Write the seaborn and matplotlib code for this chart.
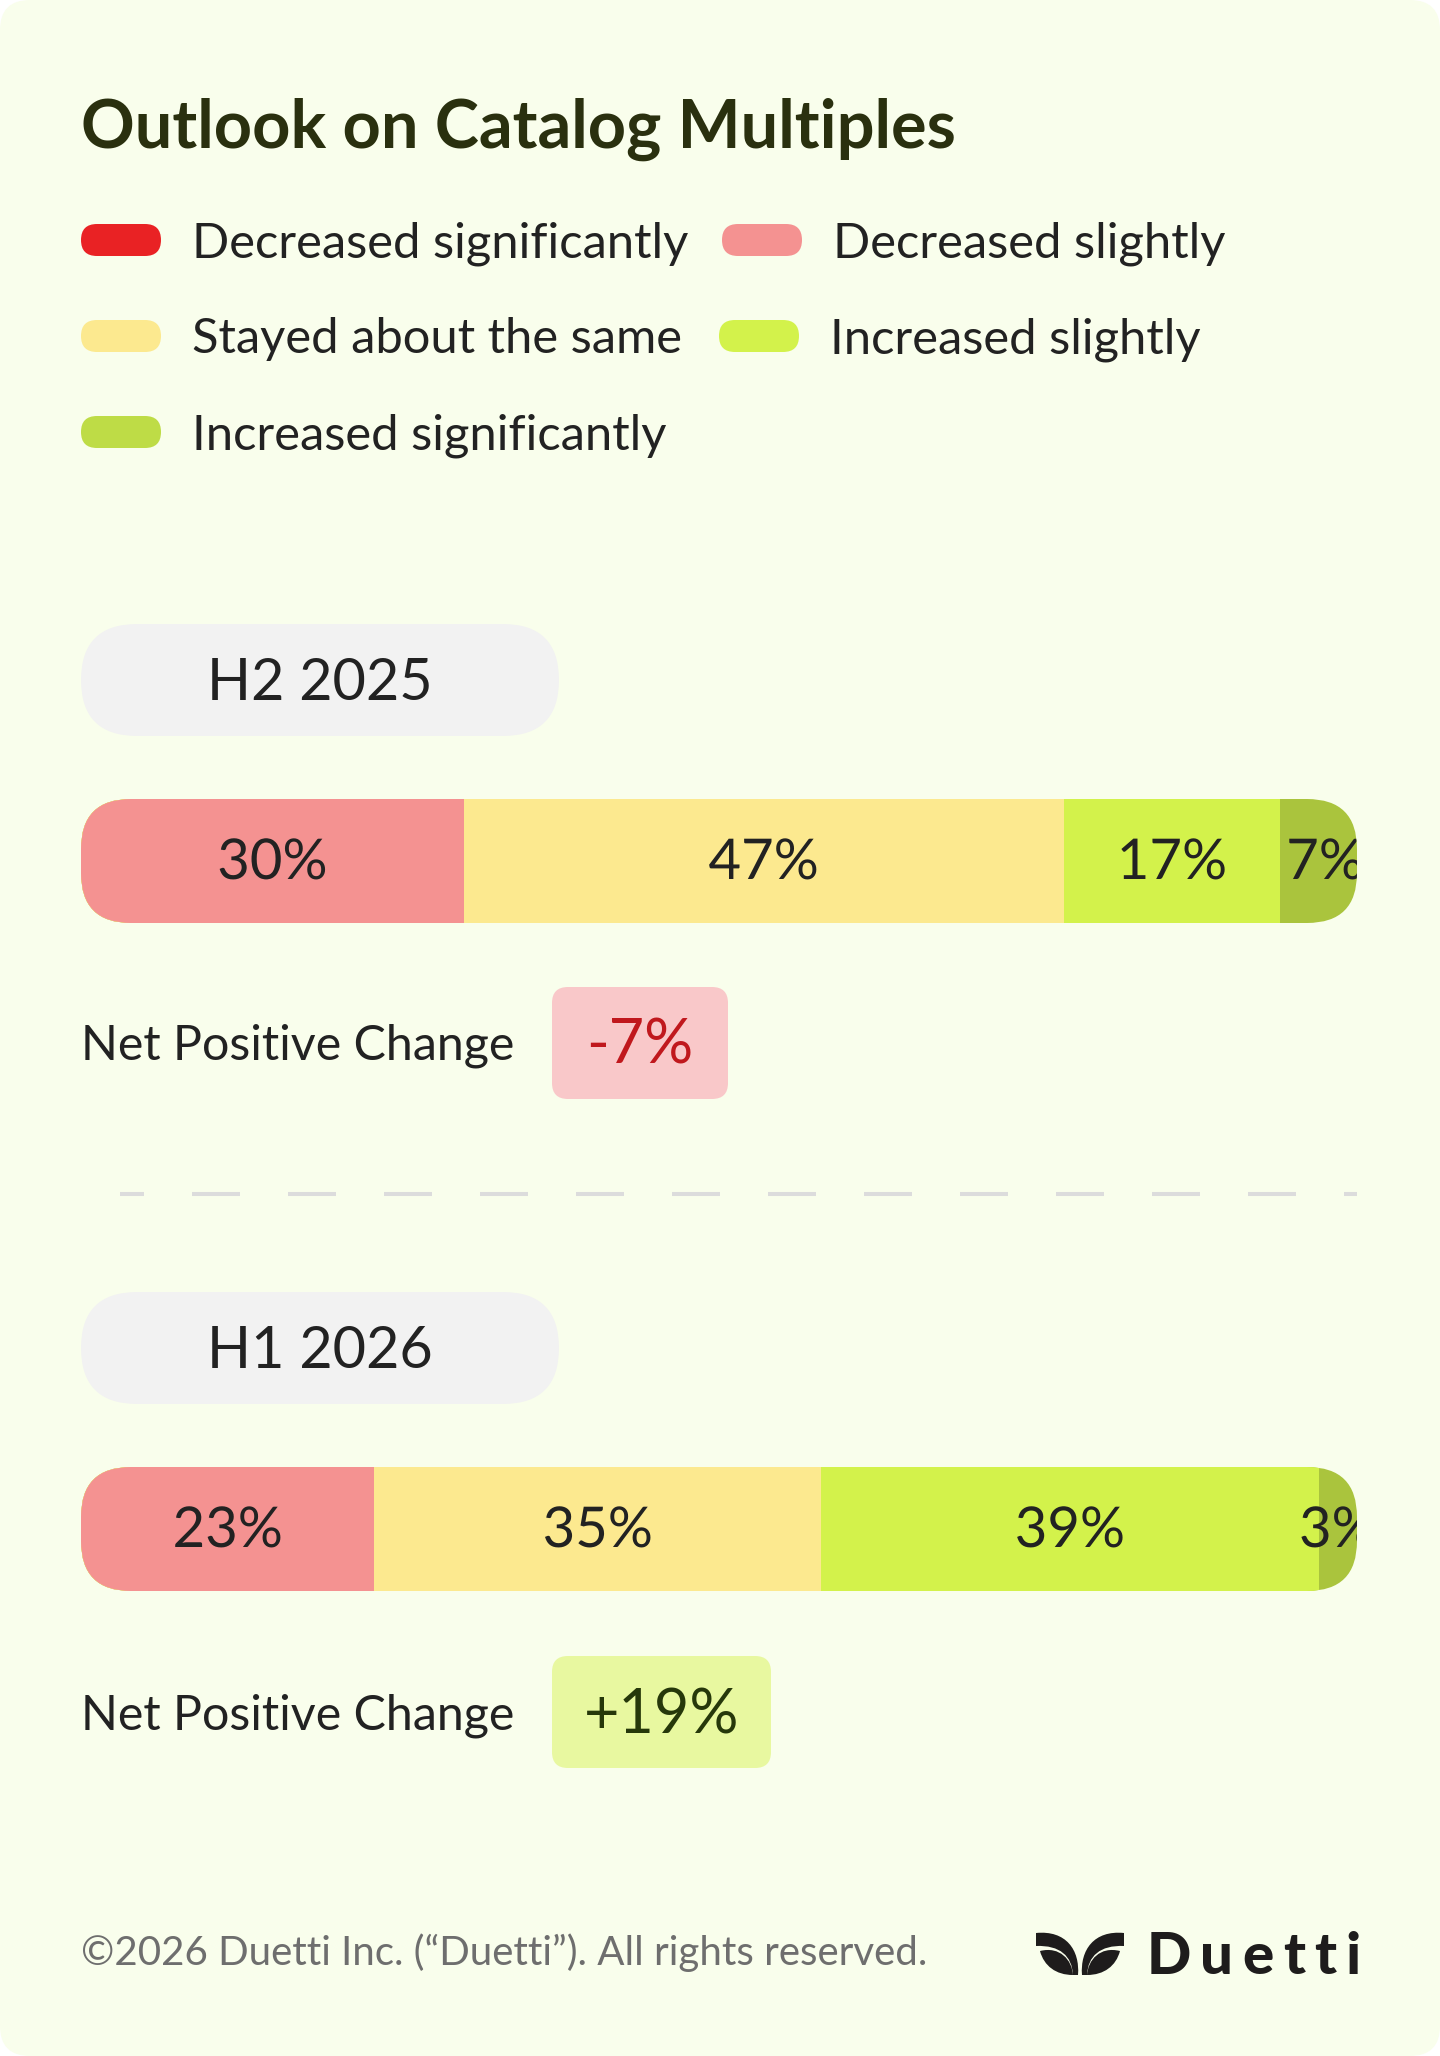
import pandas as pd
import matplotlib.pyplot as plt
import seaborn as sns
import matplotlib.patheffects as pe
from matplotlib.patches import FancyBboxPatch, PathPatch
from matplotlib.path import Path
from matplotlib import transforms

# Datos de la encuesta
categories = ['Decreased significantly', 'Decreased slightly', 'Stayed about the same',
              'Increased slightly', 'Increased significantly']
periods = ['H2 2025', 'H1 2026']
h2_2025 = [0, 30, 47, 17, 7]
h1_2026 = [0, 23, 35, 39, 3]
net_change = ['-7%', '+19%']

title = 'Outlook on Catalog Multiples'
footer = '©2026 Duetti Inc. (“Duetti”). All rights reserved.'
brand = 'Duetti'

# Colores
legend_colors = ['#E92224', '#F49291', '#FCE98F', '#D3F24B', '#BEDC46']
bar_colors = ['#E92224', '#F49291', '#FCE98F', '#D3F24B', '#AAC43D']
badge_fill = ['#F9C8C9', '#E8F8A0']
badge_text = ['#C0181D', '#26380A']
bg = '#F9FEEC'
ink = '#222222'

df = pd.DataFrame({
    'period': [p for p in periods for _ in categories],
    'category': categories * len(periods),
    'value': h2_2025 + h1_2026,
})
df['end'] = df.groupby('period')['value'].cumsum()

sns.set_theme(style='white')
plt.rcParams['font.family'] = ['Lato', 'DejaVu Sans']
plt.rcParams['lines.scale_dashes'] = False

W, H = 1440, 2056
fig = plt.figure(figsize=(W / 100, H / 100), dpi=100, facecolor='white')

# Lienzo en pixeles
canvas = fig.add_axes([0, 0, 1, 1])
canvas.set_xlim(0, W)
canvas.set_ylim(H, 0)
canvas.axis('off')
canvas.add_patch(FancyBboxPatch((0, 0), W, H, boxstyle='round,pad=0,rounding_size=30',
                                fc=bg, ec='none'))

canvas.text(81, 148, title, fontsize=48, fontweight='bold', color='#2A300F')

# Leyenda
legend_pos = [(81, 240), (722, 240), (81, 336), (719, 336), (81, 432)]
for (lx, ly), cat, col in zip(legend_pos, categories, legend_colors):
    canvas.add_patch(FancyBboxPatch((lx, ly - 16), 80, 32, boxstyle='round,pad=0,rounding_size=16',
                                    fc=col, ec='none'))
    canvas.text(lx + 111, ly + 17, cat, fontsize=35.2, color=ink)

pill_y = [624, 1292]
bar_y = [799, 1467]
net_y = [1043, 1712]
badge_w = [176, 219]

for i, period in enumerate(periods):
    # Etiqueta del periodo
    canvas.add_patch(FancyBboxPatch((81, pill_y[i]), 478, 112, boxstyle='round,pad=0,rounding_size=56',
                                    fc='#F2F2F2', ec='none'))
    canvas.text(320, pill_y[i] + 76, period, fontsize=41.5, color=ink, ha='center')

    # Barra apilada
    ax = fig.add_axes([81 / W, 1 - (bar_y[i] + 124) / H, 1276 / W, 124 / H])
    ax.patch.set_alpha(0)
    sub = df[df['period'] == period]
    for cat, col in reversed(list(zip(categories, bar_colors))):
        row = sub[sub['category'] == cat]
        if row['value'].iloc[0] == 0:
            continue
        sns.barplot(data=row, x='end', y='period', color=col, orient='h', width=1,
                    saturation=1, linewidth=0, edgecolor='none', errorbar=None, ax=ax)
    ax.set_xlim(0, 100)
    ax.set_ylim(0.5, -0.5)
    ax.axis('off')

    clip = FancyBboxPatch((81, bar_y[i]), 1276, 124, boxstyle='round,pad=0,rounding_size=50',
                          transform=canvas.transData)
    for p in ax.patches:
        p.set_clip_path(clip)

    trans = transforms.blended_transform_factory(ax.transData, canvas.transData)
    for _, r in sub.iterrows():
        if r['value'] == 0:
            continue
        t = ax.text(r['end'] - r['value'] / 2, bar_y[i] + 80, f"{r['value']}%", transform=trans,
                    fontsize=40.5, color=ink, ha='center', clip_on=True,
                    path_effects=[pe.Normal()])
        t.set_clip_path(clip)

    # Cambio neto
    canvas.text(81, net_y[i] + 17, 'Net Positive Change', fontsize=34.8, color=ink)
    canvas.add_patch(FancyBboxPatch((552, net_y[i] - 56), badge_w[i], 112,
                                    boxstyle='round,pad=0,rounding_size=16',
                                    fc=badge_fill[i], ec='none'))
    canvas.text(552 + badge_w[i] / 2, net_y[i] + 21, net_change[i], fontsize=44,
                color=badge_text[i], ha='center')

# Separador punteado
canvas.plot([120, 1357], [1194, 1194], color='#DCDCDC', lw=2.9, solid_capstyle='butt',
            dash_capstyle='butt', linestyle=(17.28, (34.56, 34.56)))

# Pie de pagina
canvas.text(81, 1965, footer, fontsize=29, color='#6E6E6E')

# Logo
def leaf(points, codes):
    canvas.add_patch(PathPatch(Path(points, codes), fc='#1E1C1C', ec='none'))

C = Path.CURVE4
for s in (1, -1):
    m = lambda x: 1080 + s * (x - 1080)
    leaf([(m(1036), 1933), (m(1066), 1930), (m(1080), 1950), (m(1078), 1975),
          (m(1073), 1975), (m(1072), 1956), (m(1060), 1945), (m(1036), 1946), (m(1036), 1933)],
         [Path.MOVETO, C, C, C, Path.LINETO, C, C, C, Path.CLOSEPOLY])
    leaf([(m(1040), 1951), (m(1060), 1946), (m(1072), 1960), (m(1073), 1975),
          (m(1056), 1975), (m(1044), 1966), (m(1040), 1951)],
         [Path.MOVETO, C, C, C, C, C, C])

# Letras del logo con espaciado amplio
renderer = fig.canvas.get_renderer()
x = 1147
for ch in brand:
    t = canvas.text(x, 1974, ch, fontsize=42, fontweight='black', color='#1E1C1C')
    bb = t.get_window_extent(renderer)
    x += bb.width + 9

plt.savefig('out.png', dpi=100, facecolor='white')
